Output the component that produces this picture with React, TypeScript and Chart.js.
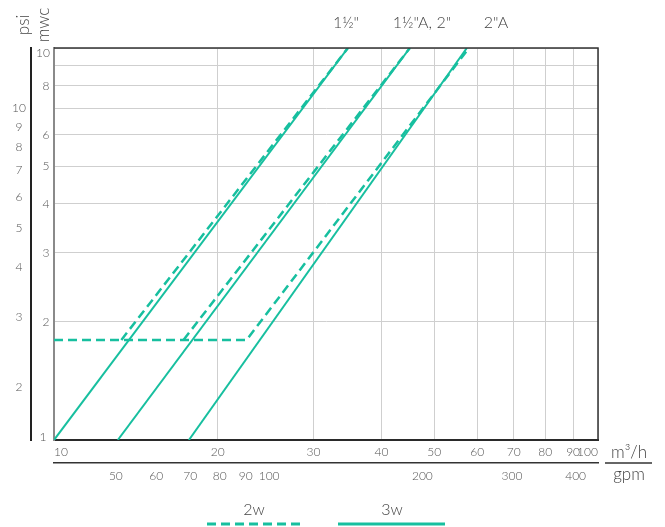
import React, { useEffect, useRef } from 'react';
import { Chart, registerables } from 'chart.js';

Chart.register(...registerables);

// ---- data ----
const sizeLabels = ['1½"', '1½"A, 2"', '2"A'];
const legendLabels = ['2w', '3w'];

// 3-way valves (solid): flow m³/h vs head loss mwc
const flow3wA = [10.0, 34.7];
const head3wA = [1, 10];
const flow3wB = [13.1, 45.1];
const head3wB = [1, 10];
const flow3wC = [17.7, 57.4];
const head3wC = [1, 10];

// 2-way valves (dashed)
const flow2wA = [13.3, 34.7];
const head2wA = [1.8, 10];
const flow2wB = [17.3, 45.1];
const head2wB = [1.8, 10];
const flow2wC = [10.0, 22.6, 57.9];
const head2wC = [1.8, 1.8, 10];

// axes
const m3hTicks = [10, 20, 30, 40, 50, 60, 70, 80, 90, 100];
const gpmTicks = [50, 60, 70, 80, 90, 100, 200, 300, 400];
const mwcTicks = [1, 2, 3, 4, 5, 6, 7, 8, 9, 10];
const mwcLabelled = [1, 2, 3, 4, 5, 6, 8, 10];
const psiTicks = [2, 3, 4, 5, 6, 7, 8, 9, 10];
const m3hRange = [10, 100];
const gpmRange = [37.8, 442.6];
const mwcRange = [1, 10];
const psiRange = [1.47, 14.2];

const TEAL = '#17bf9f';
const FONT = 'Lato, "Open Sans", sans-serif';
const tickFont = { family: FONT, size: 12, weight: '300' as const };

const pts = (xs: number[], ys: number[]) => xs.map((x, i) => ({ x, y: ys[i] }));

const solid = (data: { x: number; y: number }[]) => ({
  label: legendLabels[1],
  data,
  borderColor: TEAL,
  backgroundColor: TEAL,
  borderWidth: 2,
  pointRadius: 0,
  tension: 0,
  fill: false,
  xAxisID: 'x',
  yAxisID: 'y',
});
const dashed = (data: { x: number; y: number }[]) => ({
  ...solid(data),
  label: legendLabels[0],
  borderWidth: 2.5,
  borderDash: [9, 5],
});

const decorPlugin = {
  id: 'decor',
  afterDraw(chart: any) {
    const ctx: CanvasRenderingContext2D = chart.ctx;
    const a = chart.chartArea;
    ctx.save();
    // top / right frame
    ctx.strokeStyle = '#333';
    ctx.lineWidth = 1.5;
    ctx.beginPath();
    ctx.moveTo(a.left, a.top);
    ctx.lineTo(a.right, a.top);
    ctx.lineTo(a.right, a.bottom);
    ctx.stroke();

    ctx.textAlign = 'center';
    ctx.textBaseline = 'middle';

    // end labels of the mwc axis, nudged inside the frame
    const ys = chart.scales.y;
    ctx.fillStyle = '#555';
    ctx.font = `300 12px ${FONT}`;
    const first = mwcRange[0];
    const last = mwcRange[1];
    ctx.fillText(String(first), 43, ys.getPixelForValue(first) - 3);
    ctx.fillText(String(last), 43, ys.getPixelForValue(last) + 5.5);

    ctx.fillStyle = '#444';
    // valve size labels
    ctx.font = `300 16px ${FONT}`;
    const sizeX = [346, 422, 496];
    sizeLabels.forEach((s, i) => ctx.fillText(s, sizeX[i], 23));

    // rotated axis titles
    ctx.font = `300 17px ${FONT}`;
    [['psi', 24], ['mwc', 44]].forEach(([t, x]) => {
      ctx.save();
      ctx.translate(x as number, 25);
      ctx.rotate(-Math.PI / 2);
      ctx.fillText(t as string, 0, 0);
      ctx.restore();
    });

    // right-hand unit titles
    ctx.fillText('m³/h', 629, 453);
    ctx.fillText('gpm', 629, 475);
    ctx.strokeStyle = '#333';
    ctx.lineWidth = 1.5;
    ctx.beginPath();
    ctx.moveTo(605, 463);
    ctx.lineTo(652, 463);
    ctx.stroke();

    // legend
    ctx.font = `300 16px ${FONT}`;
    ctx.fillText(legendLabels[0], 254, 510);
    ctx.fillText(legendLabels[1], 392, 510);
    ctx.strokeStyle = TEAL;
    ctx.lineWidth = 3;
    ctx.setLineDash([9, 5]);
    ctx.beginPath();
    ctx.moveTo(207, 524);
    ctx.lineTo(302, 524);
    ctx.stroke();
    ctx.setLineDash([]);
    ctx.beginPath();
    ctx.moveTo(338, 524);
    ctx.lineTo(445, 524);
    ctx.stroke();
    ctx.restore();
  },
};

const setTicks = (values: number[]) => (scale: any) => {
  scale.ticks = values.map((v) => ({ value: v }));
};

export default function App() {
  const ref = useRef<HTMLCanvasElement>(null);
  useEffect(() => {
    document.body.style.margin = '0';
    const chart = new Chart(ref.current as HTMLCanvasElement, {
      type: 'line',
      data: {
        datasets: [
          solid(pts(flow3wA, head3wA)),
          solid(pts(flow3wB, head3wB)),
          solid(pts(flow3wC, head3wC)),
          dashed(pts(flow2wA, head2wA)),
          dashed(pts(flow2wB, head2wB)),
          dashed(pts(flow2wC, head2wC)),
        ] as any,
      },
      options: {
        animation: false,
        responsive: false,
        maintainAspectRatio: false,
        layout: { padding: { left: 0, top: 48, right: 67, bottom: 34 } },
        plugins: { legend: { display: false }, tooltip: { enabled: false } },
        scales: {
          x: {
            type: 'logarithmic',
            position: 'bottom',
            weight: 0,
            min: m3hRange[0],
            max: m3hRange[1],
            afterBuildTicks: setTicks(m3hTicks),
            afterFit: (s: any) => { s.height = 23; },
            grid: { color: '#cfcfcf', lineWidth: 1, drawTicks: false },
            border: { color: '#2a2a2a', width: 2 },
            ticks: {
              autoSkip: false, maxRotation: 0, minRotation: 0, padding: 5,
              align: 'inner', color: '#555', font: tickFont,
              callback: (v: any) => String(v),
            },
          },
          x2: {
            type: 'logarithmic',
            position: 'bottom',
            weight: 1,
            min: gpmRange[0],
            max: gpmRange[1],
            afterBuildTicks: setTicks(gpmTicks),
            afterFit: (s: any) => { s.height = 30; },
            grid: { display: false, drawTicks: false },
            border: { color: '#333', width: 1.5 },
            ticks: {
              autoSkip: false, maxRotation: 0, minRotation: 0, padding: 6,
              color: '#555', font: tickFont,
              callback: (v: any) => String(v),
            },
          },
          y: {
            type: 'logarithmic',
            position: 'left',
            weight: 0,
            min: mwcRange[0],
            max: mwcRange[1],
            afterBuildTicks: setTicks(mwcTicks),
            afterFit: (s: any) => { s.width = 23; },
            grid: { color: '#cfcfcf', lineWidth: 1, drawTicks: false },
            border: { color: '#8a8a8a', width: 2 },
            ticks: {
              autoSkip: false, padding: 4.5, crossAlign: 'center',
              color: '#555', font: tickFont,
              callback: (v: any) => {
                const n = Number(v);
                if (n === mwcRange[0] || n === mwcRange[1]) return '';
                return mwcLabelled.includes(n) ? String(v) : '';
              },
            },
          },
          y2: {
            type: 'logarithmic',
            position: 'left',
            weight: 1,
            min: psiRange[0],
            max: psiRange[1],
            afterBuildTicks: setTicks(psiTicks),
            afterFit: (s: any) => { s.width = 31; },
            grid: { display: false, drawTicks: false },
            border: { color: '#222', width: 2 },
            ticks: {
              autoSkip: false, padding: 5, crossAlign: 'center',
              color: '#555', font: tickFont,
              callback: (v: any) => String(v),
            },
          },
        } as any,
      },
      plugins: [decorPlugin],
    });
    return () => chart.destroy();
  }, []);
  return (
    <div style={{ width: 665, height: 527 }}>
      <canvas ref={ref} width={665} height={527} style={{ display: 'block' }} />
    </div>
  );
}
